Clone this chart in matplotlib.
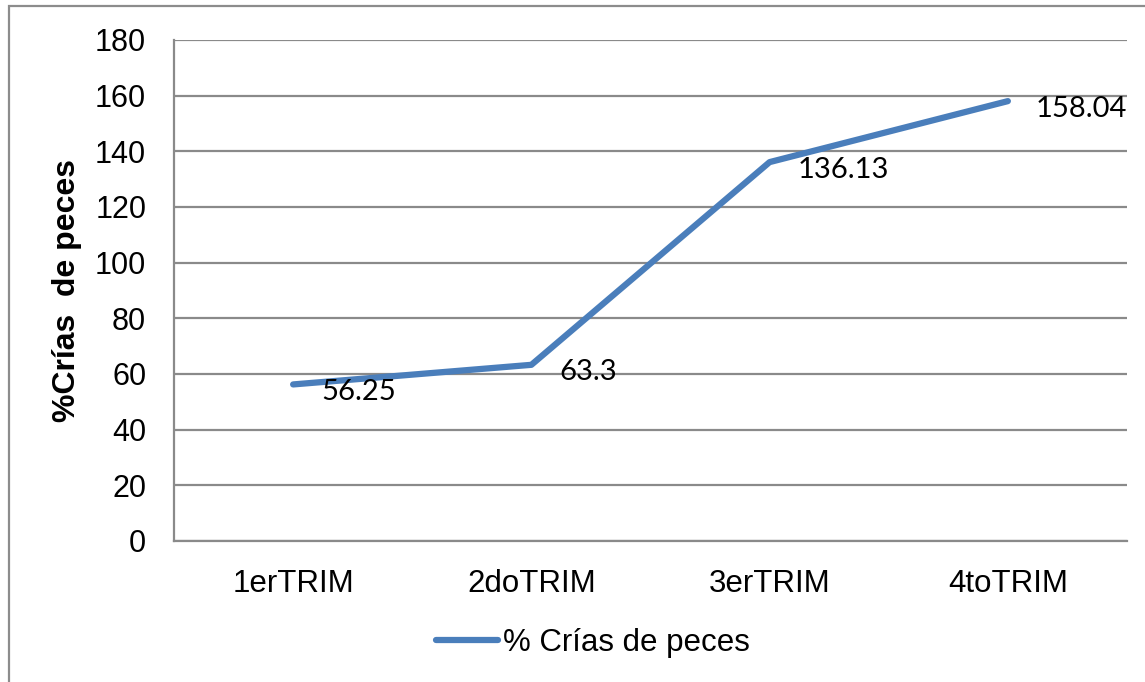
import matplotlib
matplotlib.use("Agg")
import matplotlib.pyplot as plt
from matplotlib.patches import Rectangle

categories = ["1erTRIM", "2doTRIM", "3erTRIM", "4toTRIM"]
values = [56.25, 63.3, 136.13, 158.04]
value_labels = ["56.25", "63.3", "136.13", "158.04"]
yticks = [0, 20, 40, 60, 80, 100, 120, 140, 160, 180]
series_name = "% Crías de peces"
ylabel = "%Crías  de peces"

W, H = 1145, 682
fig = plt.figure(figsize=(W / 100, H / 100), dpi=100)
fig.patch.set_facecolor("white")

# outer chart border (extends beyond image on right/bottom)
fig.patches.append(Rectangle((9 / W, -0.05), 1.2, 1 - 6 / H + 0.05,
                             transform=fig.transFigure, fill=False,
                             edgecolor="#8c8c8c", linewidth=1.6, zorder=0))

ax = fig.add_axes([174 / W, 1 - 541 / H, (1127 - 174) / W, (541 - 40) / H])
grid_c = "#8a8a8a"
x = list(range(len(categories)))
ax.plot(x, values, color="#4a7ebb", linewidth=4.5, solid_capstyle="round",
        solid_joinstyle="round", zorder=3, label=series_name)

for xi, v, lab in zip(x, values, value_labels):
    ax.annotate(lab, (xi, v), xytext=(20, -5.5), textcoords="offset points",
                ha="left", va="center", fontsize=21, family="Lato",
                color="black", zorder=4)

ax.set_xlim(-0.5, len(categories) - 0.5)
ax.set_ylim(0, 180)
ax.set_yticks(yticks)
ax.set_xticks(x)
ax.set_xticklabels(categories)
ax.yaxis.grid(True, color=grid_c, linewidth=1.6)
ax.set_axisbelow(True)
for s in ["top", "right"]:
    ax.spines[s].set_visible(False)
for s in ["left", "bottom"]:
    ax.spines[s].set_color(grid_c)
    ax.spines[s].set_linewidth(1.6)
ax.tick_params(axis="y", length=0, labelsize=22, colors="black", pad=20)
ax.tick_params(axis="x", length=0, labelsize=22.5, colors="black", pad=20.5)
for t in ax.get_xticklabels() + ax.get_yticklabels():
    t.set_family("Liberation Sans")

ax.set_ylabel(ylabel, fontsize=23, fontweight="bold", family="Liberation Sans",
              labelpad=9)

leg = fig.legend(loc="center", bbox_to_anchor=(593 / W, 1 - 643 / H),
                 frameon=False, prop={"family": "Liberation Sans", "size": 22.5},
                 handlelength=2.0, handletextpad=0.15)

fig.savefig("out.png", dpi=100, facecolor="white")
